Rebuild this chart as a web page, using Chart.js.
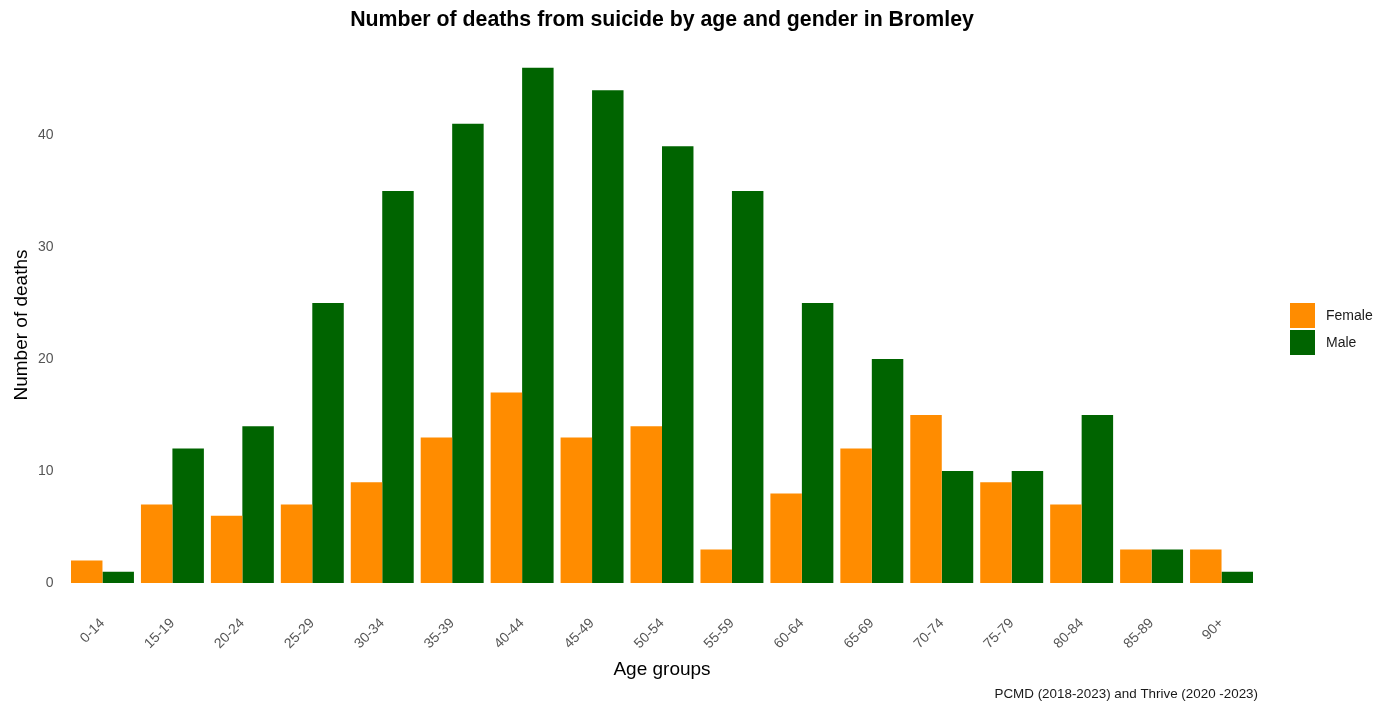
<!DOCTYPE html>
<html>
<head>
<meta charset="utf-8">
<script src="https://cdn.jsdelivr.net/npm/chart.js@4/dist/chart.umd.min.js"></script>
<style>
html,body{margin:0;padding:0;background:#fff;}
#wrap{width:1391px;height:703px;position:relative;}
</style>
</head>
<body>
<div id="wrap"><canvas id="c" width="1391" height="703"></canvas></div>
<script>
const categories = ["0-14","15-19","20-24","25-29","30-34","35-39","40-44","45-49","50-54","55-59","60-64","65-69","70-74","75-79","80-84","85-89","90+"];
const female = [2,7,6,7,9,13,17,13,14,3,8,12,15,9,7,3,3];
const male   = [1,12,14,25,35,41,46,44,39,35,25,20,10,10,15,3,1];
const yTicks = [0,10,20,30,40];
const titleText = "Number of deaths from suicide by age and gender in Bromley";
const captionText = "PCMD (2018-2023) and Thrive (2020 -2023)";
const yTitleText = "Number of deaths";

const FONT = "'Liberation Sans', Arial, sans-serif";

const overlay = {
  id: 'overlay',
  afterDraw(chart) {
    const ctx = chart.ctx;
    const ca = chart.chartArea;
    ctx.save();
    // title
    ctx.fillStyle = '#000';
    ctx.font = "bold 21.3px " + FONT;
    ctx.textAlign = 'center';
    ctx.textBaseline = 'middle';
    ctx.fillText(titleText, (ca.left + ca.right) / 2, 20);
    // y axis title
    ctx.save();
    ctx.translate(22, 325);
    ctx.rotate(-Math.PI / 2);
    ctx.font = "19px " + FONT;
    ctx.fillText(yTitleText, 0, 0);
    ctx.restore();
    // caption
    ctx.font = "13.4px " + FONT;
    ctx.textAlign = 'right';
    ctx.fillStyle = '#1a1a1a';
    ctx.fillText(captionText, 1258, 694);
    // legend
    const items = chart.data.datasets;
    ctx.font = "14px " + FONT;
    ctx.textAlign = 'left';
    items.forEach((ds, i) => {
      const y = 303 + i * 27;
      ctx.fillStyle = ds.backgroundColor;
      ctx.fillRect(1290, y, 25, 25);
      ctx.fillStyle = '#1a1a1a';
      ctx.fillText(ds.label, 1326, y + 13);
    });
    ctx.restore();
  }
};

new Chart(document.getElementById('c'), {
  type: 'bar',
  data: {
    labels: categories,
    datasets: [
      { label: 'Female', data: female, backgroundColor: '#FF8C00', borderWidth: 0 },
      { label: 'Male', data: male, backgroundColor: '#006400', borderWidth: 0 }
    ]
  },
  options: {
    responsive: false,
    animation: false,
    layout: { padding: { left: 5, right: 134.5, top: 42, bottom: 0 } },
    datasets: { bar: { barPercentage: 1.0, categoryPercentage: 0.9 } },
    plugins: {
      legend: { display: false },
      title: { display: false },
      tooltip: { enabled: false }
    },
    scales: {
      x: {
        grid: { display: false, drawTicks: false },
        border: { display: false },
        ticks: {
          color: '#555',
          font: { family: FONT, size: 14 },
          minRotation: 45, maxRotation: 45,
          padding: 32,
          autoSkip: false
        },
        title: {
          display: true, text: 'Age groups', color: '#000',
          font: { family: FONT, size: 19 },
          padding: { top: 0, bottom: 22 }
        },
        afterFit(scale) { scale.height = 120; }
      },
      y: {
        min: 0, max: 48.3,
        grid: { display: false, drawTicks: false },
        border: { display: false },
        afterBuildTicks(scale) { scale.ticks = yTicks.map(v => ({ value: v })); },
        ticks: {
          color: '#555',
          font: { family: FONT, size: 14 },
          padding: 14
        },
        title: { display: false },
        afterFit(scale) { scale.width = 62.5; }
      }
    }
  },
  plugins: [overlay]
});
</script>
</body>
</html>
